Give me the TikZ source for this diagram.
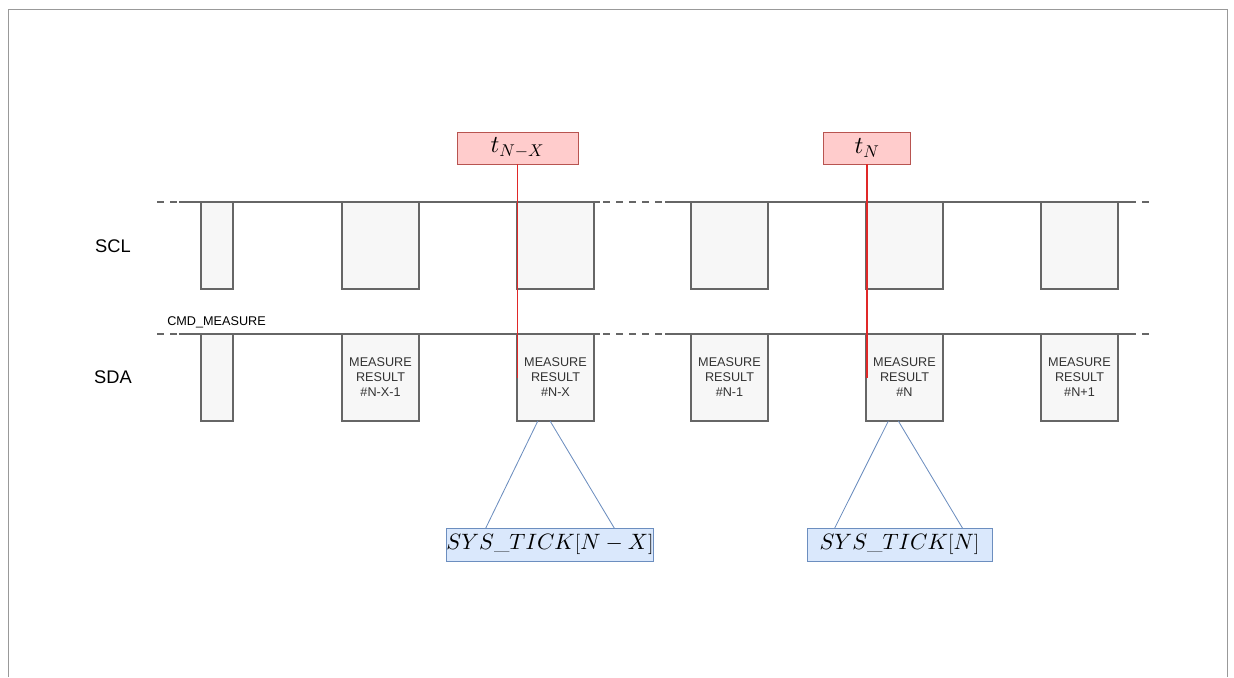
\documentclass[tikz,border=0pt]{standalone}
\usepackage{fontspec}
\setsansfont{Liberation Sans}
\usetikzlibrary{calc}
% math fonts at any size
\DeclareFontShape{OML}{cmm}{m}{it}{<->cmmi10}{}
\DeclareFontShape{OMS}{cmsy}{m}{n}{<->cmsy10}{}

\definecolor{wavegray}{HTML}{666666}
\definecolor{wavefill}{HTML}{F7F7F7}
\definecolor{pulsetext}{HTML}{333333}
\definecolor{markfill}{HTML}{FFCCCC}
\definecolor{markdraw}{HTML}{B85450}
\definecolor{markred}{HTML}{E02828}
\definecolor{tickfill}{HTML}{DAE8FC}
\definecolor{tickdraw}{HTML}{6C8EBF}
\definecolor{framegray}{HTML}{999999}

\begin{document}
\begin{tikzpicture}[x=0.025cm,y=-0.025cm,
    pulse/.style={draw=wavegray,fill=wavefill,line width=1.4pt,minimum height=2.175cm,
      inner sep=0pt,outer sep=0pt,anchor=north west,align=center,text=pulsetext,
      font=\sffamily\fontsize{9}{10.7}\selectfont},
    narrow/.style={pulse,minimum width=0.8cm},
    wide/.style={pulse,minimum width=1.925cm},
    wire/.style={wavegray,line width=1.4pt},
    idle/.style={wavegray,line width=1.4pt,dash pattern=on 5pt off 4.3pt},
    busname/.style={font=\sffamily\fontsize{13}{15}\selectfont},
    tmark/.style={draw=markdraw,fill=markfill,minimum height=0.8cm,inner sep=0pt,
      outer sep=0pt,font=\fontsize{17.3}{20}\selectfont},
    markline/.style={draw=markred,line width=0.75pt},
    tickbox/.style={draw=tickdraw,fill=tickfill,minimum height=0.825cm,inner sep=0pt,
      outer sep=0pt,font=\fontsize{15.8}{19}\selectfont},
    tickline/.style={draw=tickdraw,line width=0.6pt}]
    \useasboundingbox (0,0) rectangle (1234,677);
    % frame round the page
    \draw[framegray,line width=0.7pt] (8,677) -- (8,9) -- (1227,9) -- (1227,677);

    % bus names
    \node[busname] (scl) at (113,246) {SCL};
    \node[busname] (sda) at (113,377) {SDA};
    \node[anchor=west,inner sep=0pt,font=\sffamily\fontsize{9}{10.7}\selectfont] (cmd) at (167,322) {CMD\_MEASURE};

    % SCL pulses
    \node[narrow] (scl1) at (201,202) {};
    \node[wide]   (scl2) at (342,202) {};
    \node[wide]   (scl3) at (517,202) {};
    \node[wide]   (scl4) at (691,202) {};
    \node[wide]   (scl5) at (866,202) {};
    \node[wide]   (scl6) at (1041,202) {};

    % SDA pulses, the measure results
    \node[narrow] (sdaCmd) at (201,334) {};
    \node[wide]   (sdaNX1) at (342,334) {MEASURE\\RESULT\\\#N-X-1};
    \node[wide]   (sdaNX)  at (517,334) {MEASURE\\RESULT\\\#N-X};
    \node[wide]   (sdaN1)  at (691,334) {MEASURE\\RESULT\\\#N-1};
    \node[wide]   (sdaN)   at (866,334) {MEASURE\\RESULT\\\#N};
    \node[wide]   (sdaNp1) at (1041,334) {MEASURE\\RESULT\\\#N+1};

    % idle lines, dashed where time is left out
    \draw[idle] (157,202) -- (179,202);
    \draw[wire] (179,202) -- (600,202);
    \draw[idle] (603,202) -- (665,202);
    \draw[wire] (665,202) -- (1136,202);
    \draw[idle] (1142,202) -- (1150,202);
    \draw[idle] (157,334) -- (179,334);
    \draw[wire] (179,334) -- (600,334);
    \draw[idle] (603,334) -- (665,334);
    \draw[wire] (665,334) -- (1136,334);
    \draw[idle] (1142,334) -- (1150,334);

    % time marks
    \node[tmark,minimum width=3.025cm] (tNX) at (517.5,148) {$t_{N-X}$};
    \node[tmark,minimum width=2.175cm] (tN)  at (867,148) {$t_N$};
    \draw[markline] (tNX.south) -- (tNX.south |- sdaNX.center);
    \draw[markline] (tN.south) -- (tN.south |- sdaN.center);

    % system ticks
    \node[tickbox,minimum width=5.15cm]  (sysNX) at (550,544.5) {$SYS\_TICK[N-X]$};
    \node[tickbox,minimum width=4.625cm] (sysN)  at (899.5,544.5) {$SYS\_TICK[N]$};
    \draw[tickline] ($(sdaNX.south west)!0.27!(sdaNX.south east)$) -- ($(sysNX.north west)!0.19!(sysNX.north east)$);
    \draw[tickline] ($(sdaNX.south west)!0.43!(sdaNX.south east)$) -- ($(sysNX.north west)!0.81!(sysNX.north east)$);
    \draw[tickline] ($(sdaN.south west)!0.29!(sdaN.south east)$) -- ($(sysN.north west)!0.15!(sysN.north east)$);
    \draw[tickline] ($(sdaN.south west)!0.42!(sdaN.south east)$) -- ($(sysN.north west)!0.84!(sysN.north east)$);
\end{tikzpicture}
\end{document}
